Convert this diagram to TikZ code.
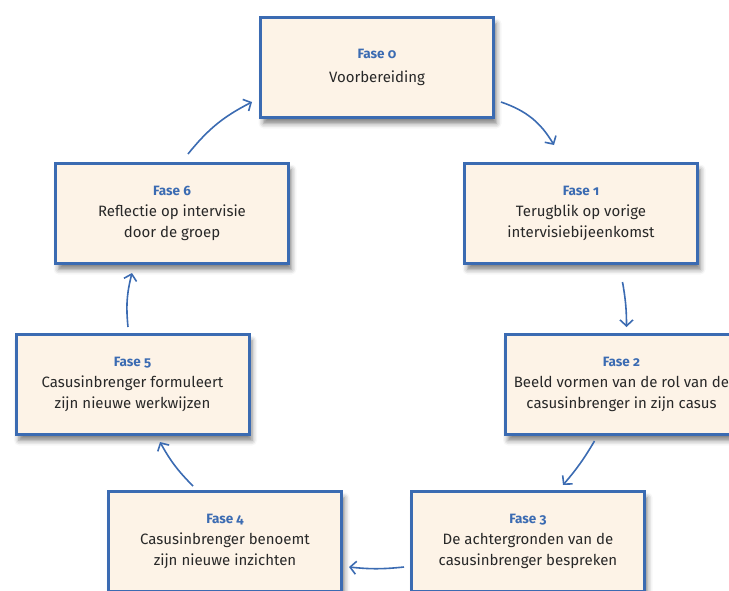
\documentclass[tikz,border=0pt]{standalone}
\usepackage{fontspec}
\setmainfont{Fira Sans}[Numbers=OldStyle]
\usetikzlibrary{positioning, arrows.meta, shadows.blur}
\definecolor{faseblue}{RGB}{59,107,178}
\definecolor{fasecream}{RGB}{253,243,231}
\definecolor{fasetext}{RGB}{40,40,40}
\newcommand{\fasetitle}[1]{{\fontsize{13.5}{21}\selectfont\bfseries\color{faseblue}Fase #1}}

\begin{document}
\begin{tikzpicture}[x=1pt,y=1pt,>={Straight Barb[length=6pt,width=13pt]},fase/.style={rectangle, draw=faseblue, line width=3pt, fill=fasecream, minimum width=233pt, minimum height=100pt, align=center, text=fasetext, font=\fontsize{15}{21}\selectfont, blur shadow={shadow xshift=3pt, shadow yshift=-6pt, shadow blur radius=5pt, shadow opacity=50}},flow/.style={draw=faseblue, line width=1.6pt, every edge/.append style={->}}]
		\useasboundingbox (0,0) rectangle (729,-590);
		\node[fase										] (F0) at (377,-67.5)	{\fasetitle{0}\\[3pt]Voorbereiding};
		\node[fase, below right=43pt and -32pt of F0	] (F1)	{\fasetitle{1}\\Terugblik op vorige\\intervisiebijeenkomst};
		\node[fase, left=173pt of F1					] (F6)	{\fasetitle{6}\\Reflectie op intervisie\\door de groep};
		\node[fase, below=68pt of F1, xshift=40.5pt		] (F2)	{\fasetitle{2}\\Beeld vormen van de rol van de\\casusinbrenger in zijn casus};
		\node[fase, below=68pt of F6, xshift=-39.5pt	] (F5)	{\fasetitle{5}\\Casusinbrenger formuleert\\zijn nieuwe werkwijzen};
		\node[fase, below=54pt of F5, xshift=92.5pt		] (F4)	{\fasetitle{4}\\Casusinbrenger benoemt\\zijn nieuwe inzichten};
		\node[fase, right=67pt of F4					] (F3)	{\fasetitle{3}\\De achtergronden van de\\casusinbrenger bespreken};

		\draw[flow]	([xshift=6pt,yshift=17pt]F0.south east)		edge[bend left=20	]	([xshift=-27pt,yshift=17pt]F1.north)
				([xshift=41.5pt,yshift=-17pt]F1.south)		edge[bend left=5	]	([xshift=5pt,yshift=6pt]F2.north)
				([xshift=-27pt,yshift=-5pt]F2.south)		edge[bend left=5	]	([xshift=35pt,yshift=5pt]F3.north)
				([xshift=-6pt,yshift=-25.5pt]F3.west)		edge[bend left=6	]	([xshift=6pt,yshift=-25.5pt]F4.east)
				([xshift=-32pt,yshift=4pt]F4.north)			edge[bend left=8	]	([xshift=27.5pt,yshift=-6pt]F5.south)
				([xshift=-4.5pt,yshift=6pt]F5.north)		edge[bend left=10	]	([xshift=-40pt,yshift=-8pt]F6.south)
				([xshift=16pt,yshift=8pt]F6.north)			edge[bend left=12	]	([xshift=-7pt,yshift=17pt]F0.south west)
				;
	\end{tikzpicture}
\end{document}
